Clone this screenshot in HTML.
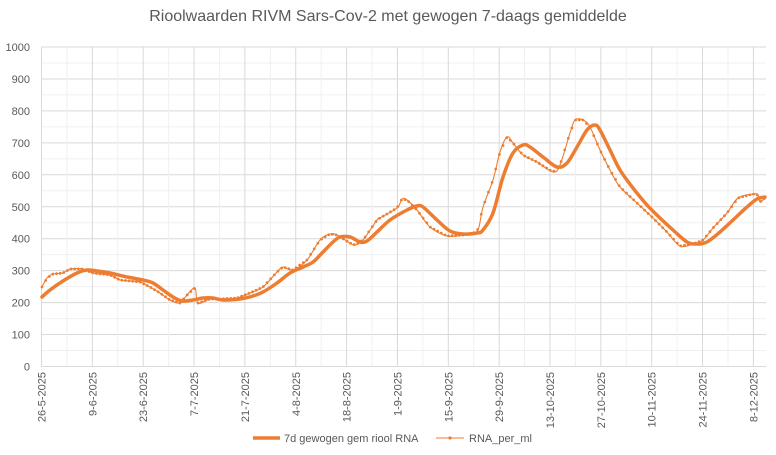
<!DOCTYPE html>
<html><head><meta charset="utf-8"><style>
html,body{margin:0;padding:0;background:#fff;}
svg{display:block;font-family:"Liberation Sans",sans-serif;}
</style></head><body>
<svg id="s" width="776" height="455" viewBox="0 0 776 455">
<text x="388" y="21" text-anchor="middle" font-size="16" fill="#595959">Rioolwaarden RIVM Sars-Cov-2 met gewogen 7-daags gemiddelde</text>
<g id="grid"></g>
<g id="lab" font-size="11" fill="#595959"></g>
<path id="thin" fill="none" stroke="#ED7D31" stroke-width="1.1"/>
<g id="mk" fill="#ED7D31"></g>
<path id="thick" fill="none" stroke="#ED7D31" stroke-width="3.5" stroke-linejoin="round" stroke-linecap="round"/>
<line x1="253" y1="438" x2="280" y2="438" stroke="#ED7D31" stroke-width="3.5"/>
<text x="284" y="442" font-size="11" fill="#595959">7d gewogen gem riool RNA</text>
<line x1="436" y1="438" x2="464" y2="438" stroke="#ED7D31" stroke-width="1.1"/>
<circle cx="450" cy="438" r="1.6" fill="#ED7D31"/>
<text x="469" y="442" font-size="11" fill="#595959">RNA_per_ml</text>
</svg>
<script>
var NS="http://www.w3.org/2000/svg";
function el(t,a,p){var e=document.createElementNS(NS,t);for(var k in a)e.setAttribute(k,a[k]);p.appendChild(e);return e;}
var g=document.getElementById('grid'),lab=document.getElementById('lab');
var L=41.5,R=766,Y0=366.5,Y1=47,dx=50.85;
for(var v=0;v<=1000;v+=50){var y=Y0-(Y0-Y1)*v/1000;
 el('line',{x1:L,x2:R,y1:y,y2:y,stroke:v%100==0?'#d9d9d9':'#f0f0f0','stroke-width':1},g);
 if(v%100==0){var t=el('text',{x:30,y:y+4,'text-anchor':'end'},lab);t.textContent=v;}}
var dates=['26-5-2025','9-6-2025','23-6-2025','7-7-2025','21-7-2025','4-8-2025','18-8-2025','1-9-2025','15-9-2025','29-9-2025','13-10-2025','27-10-2025','10-11-2025','24-11-2025','8-12-2025'];
for(var i=0;i<29;i++){var x=L+i*dx/2;if(x>R)break;
 el('line',{x1:x,x2:x,y1:Y1,y2:Y0,stroke:i%2==0?'#d9d9d9':'#f0f0f0','stroke-width':1},g);}
el('line',{x1:L,x2:R,y1:Y0,y2:Y0,stroke:'#d9d9d9','stroke-width':1},g);
for(var i=0;i<dates.length;i++){var x=L+i*dx+4;var t=el('text',{x:0,y:0,'text-anchor':'end',transform:'translate('+x+',372) rotate(-90)'},lab);t.textContent=dates[i];}
var thick=[[42,297],[50,290],[63,281],[77,273],[87,270],[97,271],[110,273],[127,277],[143,280],[153,283],[163,290],[173,297],[182,301],[193,300],[203,298],[213,298],[223,300],[240,299],[253,296],[263,292],[277,283],[290,273],[303,267],[313,262],[323,252],[333,242],[340,237],[350,237],[360,242],[367,241],[377,232],[390,220],[407,210],[417,206],[423,207],[437,220],[450,231],[463,234],[477,233],[483,230],[493,213],[503,177],[513,153],[523,145],[530,147],[543,157],[557,167],[567,163],[577,147],[587,130],[595,125],[600,130],[610,150],[620,170],[633,188],[647,205],[660,218],[673,230],[687,242],[697,244],[707,242],[720,232],[733,220],[747,207],[757,199],[765,197]];
var thin=[[42,287],[47,278],[53,274],[63,273],[70,269],[83,269],[93,273],[110,275],[120,280],[130,281],[140,282],[150,287],[160,293],[170,300],[180,303],[187,295],[195,288],[198,303],[210,299],[220,299],[237,298],[250,293],[263,287],[277,272],[283,267],[293,270],[307,260],[320,240],[330,234],[337,235],[350,243],[355,245],[363,240],[377,220],[380,218],[397,208],[402,199],[407,200],[417,210],[430,227],[447,236],[463,235],[477,232],[483,207],[493,180],[500,152],[507,137],[513,143],[523,155],[537,162],[553,172],[560,165],[570,133],[575,120],[583,120],[590,127],[600,150],[610,170],[620,187],[637,203],[653,218],[667,232],[680,246],[693,244],[703,240],[713,228],[727,213],[738,198],[753,194],[758,195],[760,202],[765,198]];
function cr(p){var d='M'+p[0][0]+','+p[0][1];for(var i=0;i<p.length-1;i++){var a=p[i-1]||p[i],b=p[i],c=p[i+1],e=p[i+2]||c;
 d+=' C'+(b[0]+(c[0]-a[0])/6)+','+(b[1]+(c[1]-a[1])/6)+' '+(c[0]-(e[0]-b[0])/6)+','+(c[1]-(e[1]-b[1])/6)+' '+c[0]+','+c[1];}return d;}
document.getElementById('thick').setAttribute('d',cr(thick));
document.getElementById('thin').setAttribute('d',cr(thin));
var mk=document.getElementById('mk');
function yAt(x){for(var i=1;i<thin.length;i++){if(thin[i][0]>=x){var a=thin[i-1],b=thin[i];return a[1]+(b[1]-a[1])*(x-a[0])/(b[0]-a[0]||1);}}return thin[thin.length-1][1];}
for(var x=42;x<=765;x+=3.63){el('circle',{cx:x,cy:yAt(x),r:1.4},mk);}
</script>
</body></html>
